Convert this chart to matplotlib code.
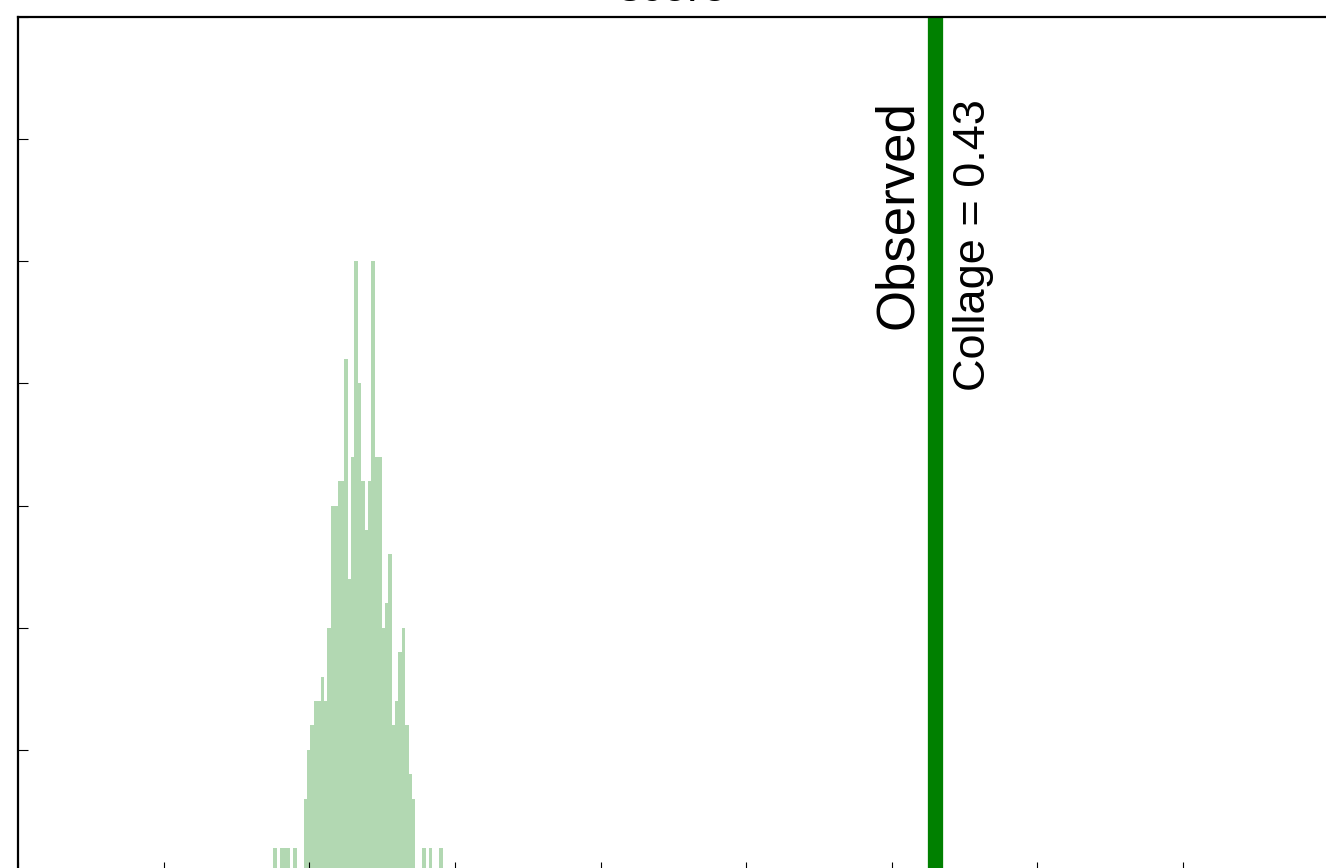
import numpy as np
import matplotlib
matplotlib.use('Agg')
import matplotlib.pyplot as plt

plt.rcParams['font.family'] = ['Liberation Sans', 'DejaVu Sans']

# null distribution (permutation scores), 50 bins
hist_min = -0.0248
hist_max = 0.0915
counts = [1, 0, 1, 1, 1, 0, 1, 0, 0, 3,
          5, 6, 7, 7, 8, 7, 10, 15, 15, 16,
          16, 21, 12, 17, 25, 20, 16, 14, 16, 25,
          17, 17, 10, 11, 13, 6, 7, 9, 10, 6,
          4, 3, 0, 0, 1, 0, 1, 0, 0, 1]

observed = 0.43
obs_label = 'Observed'
score_label = f'Collage = {observed:.2f}'
title = 'score'

xticks = np.round(np.arange(-0.2, 0.71, 0.1), 2)
yticks = np.arange(0, 36, 5)

edges = np.linspace(hist_min, hist_max, len(counts) + 1)
centers = (edges[:-1] + edges[1:]) / 2

fig = plt.figure(figsize=(13.26, 8.68), dpi=100)
ax = fig.add_axes([18 / 1326, -4 / 868, 1310.7 / 1326, 855 / 868])

ax.hist(centers, bins=edges, weights=counts, color='green', alpha=0.3, linewidth=0)
ax.axvline(observed, color='green', lw=11)

# labels next to the observed line
ax.text(0.4215, 31.6, obs_label, rotation=90, ha='right', va='top', fontsize=38)
ax.text(0.442, 31.65, score_label, rotation=90, ha='left', va='top', fontsize=32.5)

ax.set_xlim(-0.2, 0.7)
ax.set_ylim(0, 35)
ax.set_xticks(xticks)
ax.set_yticks(yticks)
ax.tick_params(direction='in', length=7, width=0.8, labelleft=False, labelbottom=False)
for s in ax.spines.values():
    s.set_linewidth(1.6)
ax.set_title(title, fontsize=32, pad=11.5)

fig.savefig('out.png', dpi=100)
